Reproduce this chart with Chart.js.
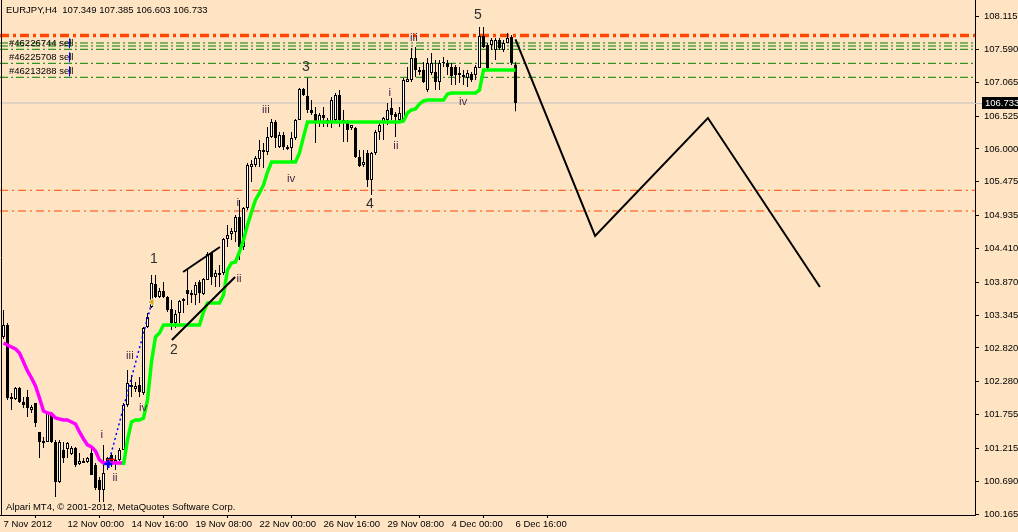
<!DOCTYPE html>
<html><head><meta charset="utf-8">
<script src="https://cdn.jsdelivr.net/npm/chart.js@4/dist/chart.umd.min.js"></script>
<style>html,body{margin:0;padding:0;background:#FFE4C4;overflow:hidden}</style>
</head><body>
<canvas id="c" width="1018" height="532"></canvas>
<script>
const titleText = "EURJPY,H4  107.349 107.385 106.603 106.733";
const footerText = "Alpari MT4, \u00A9 2001-2012, MetaQuotes Software Corp.";
const lastPrice = 106.733;

const xTickBars = [0,16,32,48,64,80,96,112,128];
const xTickLabels = ["7 Nov 2012","12 Nov 00:00","14 Nov 16:00","19 Nov 08:00","22 Nov 00:00","26 Nov 16:00","29 Nov 08:00","4 Dec 00:00","6 Dec 16:00"];
const yTickValues = [108.115,107.590,107.065,106.525,106.000,105.475,104.935,104.410,103.870,103.345,102.820,102.280,101.755,101.215,100.690,100.165];

const opens = [102.996,103.187,102.037,102.005,102.181,101.957,102.037,101.830,101.942,101.478,101.334,101.318,101.782,101.318,100.680,101.191,101.207,101.127,101.223,100.967,101.015,100.999,101.143,100.950,100.711,100.552,100.983,101.111,100.983,101.031,101.191,101.910,102.229,102.165,102.229,102.101,103.156,103.475,103.843,103.635,103.731,103.635,103.443,103.219,103.379,103.603,103.747,103.699,103.667,103.874,103.683,103.906,104.338,103.954,104.018,104.018,104.561,104.641,104.673,104.913,104.433,105.056,105.711,105.743,105.839,105.951,105.951,106.191,106.430,106.031,106.223,106.031,106.015,106.175,106.462,106.957,106.845,106.622,106.558,106.430,106.542,106.462,106.430,106.462,106.861,106.414,106.430,106.334,106.334,105.871,105.743,105.935,105.504,105.935,106.270,106.414,106.462,106.654,106.558,106.462,106.462,107.069,107.101,107.453,107.261,107.261,106.941,107.213,107.229,107.069,107.373,107.373,107.309,107.309,107.213,107.149,107.133,107.197,107.181,107.293,107.804,107.660,107.660,107.580,107.740,107.580,107.692,107.788,107.349];
const highs = [103.427,103.219,102.101,102.197,102.197,102.037,102.149,101.910,101.942,101.478,101.398,101.798,101.798,101.350,101.350,101.318,101.318,101.255,101.239,101.143,101.063,101.079,101.223,100.983,100.759,101.271,101.079,101.143,101.111,101.223,101.942,102.469,102.389,102.277,102.357,103.156,103.379,103.986,103.986,103.778,103.874,103.651,103.587,103.427,103.587,103.619,104.066,103.747,103.874,103.906,103.938,104.354,104.354,104.066,104.146,104.577,104.785,104.737,104.945,105.184,105.072,105.775,105.823,105.887,106.143,106.095,106.350,106.478,106.462,106.270,106.270,106.063,106.270,106.478,106.973,106.973,107.133,106.782,106.670,106.574,106.670,106.494,106.830,106.893,106.941,106.622,106.462,106.382,106.350,105.983,105.983,105.983,105.951,106.302,106.414,106.510,106.734,106.814,106.590,106.670,107.133,107.309,107.612,107.628,107.309,107.389,107.453,107.532,107.421,107.421,107.468,107.421,107.373,107.341,107.309,107.261,107.261,107.229,107.341,107.948,107.948,107.692,107.772,107.772,107.772,107.740,107.852,107.820,107.385];
const lows = [102.964,101.989,101.830,101.989,101.942,101.862,101.718,101.782,101.558,101.063,101.223,101.318,101.302,100.440,100.664,100.983,101.063,101.111,100.919,100.950,100.983,100.983,100.791,100.552,100.360,100.360,100.871,100.919,100.871,101.015,101.191,101.878,102.037,102.117,102.037,102.069,103.140,103.459,103.619,103.619,103.619,103.395,103.108,103.140,103.219,103.379,103.507,103.539,103.507,103.539,103.667,103.906,103.826,103.794,103.794,103.986,104.433,104.545,104.513,104.226,104.385,105.024,105.472,105.711,105.711,105.695,105.903,106.175,106.015,106.015,105.983,105.983,105.775,106.143,106.462,106.845,106.574,106.542,106.095,106.350,106.350,106.350,106.334,106.430,106.350,106.111,106.111,106.302,105.855,105.711,105.711,105.392,105.264,105.903,106.143,106.143,106.382,106.462,106.191,106.430,106.462,107.069,107.069,107.149,107.181,107.053,106.909,107.181,106.941,106.941,107.309,107.181,107.021,107.021,107.053,107.021,106.989,107.069,107.101,107.293,107.612,107.261,107.580,107.421,107.580,107.548,107.692,107.341,106.603];
const closes = [103.187,102.021,102.005,102.181,101.957,101.910,101.862,101.878,101.622,101.318,101.302,101.782,101.318,100.680,101.318,101.063,101.302,101.223,100.950,101.015,100.983,101.063,100.791,100.584,100.552,100.823,101.063,100.983,101.031,101.191,101.910,102.261,102.197,102.213,102.117,103.140,103.315,103.858,103.635,103.731,103.635,103.427,103.219,103.363,103.571,103.571,103.683,103.667,103.826,103.699,103.922,104.322,103.954,104.018,103.986,104.561,104.625,104.689,104.913,104.433,105.056,105.743,105.759,105.855,105.983,105.983,106.191,106.430,106.175,106.223,106.031,105.999,106.175,106.462,106.957,106.861,106.622,106.574,106.430,106.542,106.494,106.430,106.782,106.861,106.462,106.462,106.302,106.382,105.871,105.727,105.791,105.504,105.935,106.270,106.382,106.494,106.622,106.542,106.510,106.574,107.101,107.117,107.453,107.261,107.229,107.069,107.373,107.373,107.069,107.373,107.389,107.309,107.165,107.181,107.181,107.181,107.213,107.101,107.309,107.804,107.628,107.293,107.740,107.740,107.612,107.692,107.772,107.373,106.733];

// trailing-stop indicator (green), starts at bar 30
const trailStart = 30;
const trailValues = [100.950,101.350,101.638,101.670,101.670,101.702,101.989,102.600,102.996,103.060,103.187,103.187,103.187,103.187,103.187,103.187,103.187,103.187,103.187,103.187,103.395,103.539,103.539,103.539,103.539,103.667,104.066,104.178,104.194,104.354,104.545,104.785,104.992,105.184,105.296,105.424,105.631,105.791,105.791,105.791,105.791,105.791,105.791,105.791,105.935,106.191,106.430,106.430,106.430,106.430,106.430,106.430,106.430,106.430,106.430,106.430,106.430,106.430,106.430,106.430,106.430,106.430,106.430,106.430,106.430,106.430,106.430,106.430,106.430,106.430,106.446,106.574,106.622,106.638,106.718,106.766,106.782,106.782,106.782,106.782,106.782,106.877,106.893,106.893,106.893,106.893,106.893,106.893,106.893,106.941,107.261,107.261,107.261,107.261,107.261,107.261,107.261,107.261,107.261];
// magenta indicator, bars 0..30
const magentaValues = [102.900,102.868,102.836,102.804,102.740,102.596,102.453,102.341,102.213,102.021,101.814,101.782,101.766,101.702,101.686,101.670,101.670,101.638,101.606,101.478,101.366,101.271,101.239,101.175,101.031,100.983,100.983,100.983,100.983,100.983,100.983];

// trade history (buy open -> close)
const tradeBars = [26.2, 37.1];
const tradePrices = [100.967, 103.555];
const stopBars = [25.9, 27.9];
const stopPrice = 101.039;

// channel lines around wave 2
const channelUpperBars = [44.9, 54.1];
const channelUpperPrices = [104.034, 104.433];
const channelLowerBars = [42.1, 57.9];
const channelLowerPrices = [102.947, 103.954];

// projected zigzag
const projBars = [128, 147.9, 176.1, 204.1];
const projPrices = [107.75, 104.609, 106.494, 103.794];

// horizontal levels
const orangeMainLevel = [107.81];
const greenLevels = [107.692, 107.644, 107.591, 107.367, 107.144];
const orangeLevels = [105.339, 105.008];
const orderTickets = ["#46226744 sell", "#46225708 sell", "#46213288 sell"];
const orderPrices = [107.591, 107.367, 107.144];

// wave labels
const waveTexts = ["1","2","3","4","5"];
const waveBars = [37.6, 42.6, 75.6, 91.6, 118.6];
const wavePrices = [104.242, 102.788, 107.309, 105.120, 108.139];
const subTexts = ["i","ii","iii","iv","i","ii","iii","iv","i","ii","iii","iv"];
const subBars = [24.6, 27.9, 31.6, 34.9, 58.6, 58.9, 65.6, 71.9, 96.6, 98.1, 102.6, 114.9];
const subPrices = [101.430, 100.743, 102.692, 101.862, 105.136, 103.922, 106.622, 105.520, 106.893, 106.047, 107.772, 106.750];

// ---------- build datasets ----------
const FONT = "Liberation Sans, Arial, sans-serif";
const XMIN = -0.875, XMAX = 242.875;
const YMIN = 100.1518, YMAX = 108.3786;

function hline(price, color, width, dash, order) {
  return {type:'line', data:[{x:XMIN,y:price},{x:XMAX,y:price}], borderColor:color, borderWidth:width,
    borderDash:dash, pointRadius:0, order:order, tension:0};
}
const datasets = [];
datasets.push(hline(lastPrice, '#C0C0C0', 1, [], 20));
orangeLevels.forEach(p => datasets.push(hline(p, '#FF4500', 1, [8,4,2,4], 19)));
greenLevels.forEach(p => datasets.push(hline(p, '#008000', 1, [8,3,2,3], 19)));
orangeMainLevel.forEach(p => datasets.push(hline(p, '#FF4500', 3.5, [9,4,3,4], 18)));

// wicks
datasets.push({type:'bar', data: highs.map((h,i)=>({x:i, y:[lows[i], h]})), backgroundColor:'#000',
  barThickness:1, grouped:false, order:11, inflateAmount:0, minBarLength:1, borderWidth:0});
// bodies
const bull = opens.map((o,i)=>closes[i] >= o);
datasets.push({type:'bar', data: opens.map((o,i)=>({x:i, y:[Math.min(o,closes[i]), Math.max(o,closes[i])]})),
  backgroundColor: bull.map(b => b ? '#FFFFFF' : '#000000'), borderColor:'#000', borderWidth:1,
  borderSkipped:false, barThickness:3, grouped:false, order:10, inflateAmount:0, minBarLength:1});

// indicators
datasets.push({type:'line', data: magentaValues.map((v,i)=>({x:i,y:v})), borderColor:'#FF00FF', borderWidth:3.5,
  pointRadius:0, order:5, tension:0});
datasets.push({type:'line', data: trailValues.map((v,i)=>({x:i+trailStart,y:v})), borderColor:'#00FF00', borderWidth:3.5,
  pointRadius:0, order:4, tension:0});
datasets.push({type:'line', data: tradeBars.map((b,i)=>({x:b,y:tradePrices[i]})), borderColor:'#0000FF', borderWidth:1.5,
  borderDash:[2,3], pointRadius:0, order:3});
datasets.push({type:'line', data: stopBars.map(b=>({x:b,y:stopPrice})), borderColor:'#FF0000', borderWidth:1.5,
  pointRadius:0, order:3});
datasets.push({type:'line', data: [{x:tradeBars[0], y:tradePrices[0]}], showLine:false, pointStyle:'cross',
  pointRadius:4, pointBorderColor:'#0000FF', pointBorderWidth:2.5, order:2});
datasets.push({type:'line', data: [{x:tradeBars[1], y:tradePrices[1]}], showLine:false, pointStyle:'triangle',
  pointRotation:-90, pointRadius:4.5, pointBackgroundColor:'#DAA520', pointBorderColor:'#FFF8DC', pointBorderWidth:1, order:2});
datasets.push({type:'line', data: channelUpperBars.map((b,i)=>({x:b,y:channelUpperPrices[i]})), borderColor:'#000', borderWidth:2, pointRadius:0, order:1});
datasets.push({type:'line', data: channelLowerBars.map((b,i)=>({x:b,y:channelLowerPrices[i]})), borderColor:'#000', borderWidth:2, pointRadius:0, order:1});
datasets.push({type:'line', data: projBars.map((b,i)=>({x:b,y:projPrices[i]})), borderColor:'#000', borderWidth:2, pointRadius:0, order:1, tension:0});

const overlay = {
  id:'overlay',
  afterDraw(chart) {
    const ctx = chart.ctx, xs = chart.scales.x, ys = chart.scales.y, a = chart.chartArea;
    ctx.save();
    // left frame
    ctx.strokeStyle = '#000'; ctx.lineWidth = 1;
    ctx.beginPath(); ctx.moveTo(1.5, 0); ctx.lineTo(1.5, a.bottom); ctx.stroke();
    // header & footer
    ctx.fillStyle = '#000'; ctx.font = '9.5px ' + FONT; ctx.textBaseline = 'middle'; ctx.textAlign = 'left';
    ctx.fillText(titleText, 6, 10);
    ctx.fillText(footerText, 6, 507);
    // order labels
    orderTickets.forEach((t,i) => {
      const y = ys.getPixelForValue(orderPrices[i]);
      ctx.fillStyle = '#000';
      ctx.fillText(t, 9, y - 6);
      ctx.strokeStyle = '#0000FF';
      ctx.beginPath(); ctx.moveTo(69.5, y - 11); ctx.lineTo(69.5, y - 1); ctx.stroke();
    });
    // wave labels
    ctx.textAlign = 'center';
    ctx.fillStyle = '#2e2e2e'; ctx.font = '14px ' + FONT;
    waveTexts.forEach((t,i) => ctx.fillText(t, xs.getPixelForValue(waveBars[i]), ys.getPixelForValue(wavePrices[i])));
    ctx.fillStyle = '#4a2848'; ctx.font = '11.5px ' + FONT;
    subTexts.forEach((t,i) => ctx.fillText(t, xs.getPixelForValue(subBars[i]), ys.getPixelForValue(subPrices[i])));
    // last price box
    const yp = Math.round(ys.getPixelForValue(lastPrice));
    ctx.strokeStyle = '#C0C0C0';
    ctx.beginPath(); ctx.moveTo(a.right, yp + 0.5); ctx.lineTo(a.right + 7, yp + 0.5); ctx.stroke();
    ctx.fillStyle = '#000';
    ctx.fillRect(a.right + 7, yp - 6, 50, 12);
    ctx.fillStyle = '#FFF'; ctx.textAlign = 'left'; ctx.font = '9.5px ' + FONT;
    ctx.fillText(lastPrice.toFixed(3), a.right + 10, yp + 0.5);
    ctx.restore();
  }
};

new Chart(document.getElementById('c'), {
  type:'bar',
  data:{datasets},
  plugins:[overlay],
  options:{
    responsive:false, devicePixelRatio:1, animation:false,
    layout:{padding:0, autoPadding:false},
    plugins:{legend:{display:false}, tooltip:{enabled:false}},
    scales:{
      x:{type:'linear', min:XMIN, max:XMAX, offset:false,
        grid:{display:true, drawOnChartArea:false, drawTicks:true, tickLength:3, color:'#000'},
        border:{display:true, color:'#000', width:1},
        afterBuildTicks: s => { s.ticks = xTickBars.map(v => ({value:v})); },
        afterFit: s => { s.height = 17; s.paddingLeft = 0; s.paddingRight = 0; },
        ticks:{autoSkip:false, maxRotation:0, align:'start', padding:1, color:'#000',
          font:{family:FONT, size:9.5}, callback:(v,i) => xTickLabels[i]}
      },
      y:{type:'linear', position:'right', min:YMIN, max:YMAX,
        grid:{display:true, drawOnChartArea:false, drawTicks:true, tickLength:4, color:'#000'},
        border:{display:true, color:'#000', width:1},
        afterBuildTicks: s => { s.ticks = yTickValues.map(v => ({value:v})); },
        afterFit: s => { s.width = 43; s.paddingTop = 0; s.paddingBottom = 0; },
        ticks:{autoSkip:false, padding:5, color:'#000', font:{family:FONT, size:9.5},
          callback: v => Number(v).toFixed(3)}
      }
    }
  }
});
</script>
</body></html>
